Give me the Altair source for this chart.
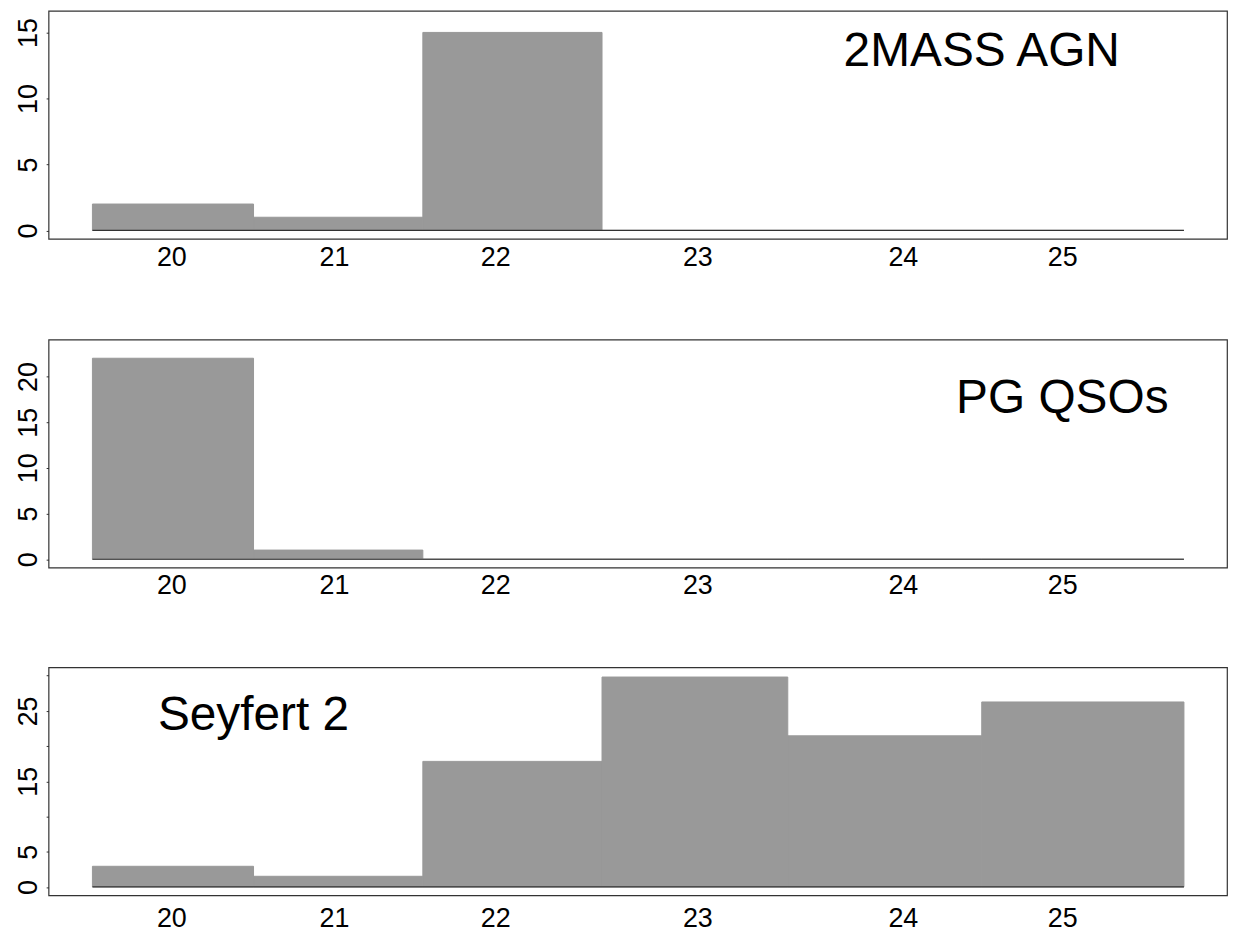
import altair as alt
import pandas as pd

# ---- data ----
bin_lo = [19.52, 20.50, 21.53, 22.62, 23.75, 24.93]
bin_hi = [20.50, 21.53, 22.62, 23.75, 24.93, 26.16]
tick_pos = [20.0, 20.99, 21.97, 23.2, 24.45, 25.42]
tick_labels = ["20", "21", "22", "23", "24", "25"]

agn_2mass = [2, 1, 15, 0, 0, 0]
pg_qso = [22, 1, 0, 0, 0, 0]
seyfert2 = [2.93, 1.51, 17.83, 29.81, 21.46, 26.27]

panel_names = ["2MASS AGN", "PG QSOs", "Seyfert 2"]
panel_values = [agn_2mass, pg_qso, seyfert2]
y_domains = [[-0.64, 16.64], [-0.92, 24.05], [-1.2, 31.2]]
y_ticks = [[0, 5, 10, 15], [0, 5, 10, 15, 20], [0, 5, 10, 15, 20, 25, 30]]
y_shown = [[0, 5, 10, 15], [0, 5, 10, 15, 20], [0, 5, 15, 25]]
label_x = [24.93, 25.42, 20.50]
label_y = [12.47, 15.98, 22.35]
x_label_pad = [26.7, 25.7, 31.6]

X_DOMAIN = [19.253, 26.422]
FONT = "Liberation Sans"
BAR = "#999999"
DARK = "#333333"

x_label_expr = "{labs}[indexof({pos}, datum.value)]".format(
    labs="[" + ",".join("'%s'" % t for t in tick_labels) + "]",
    pos="[" + ",".join(repr(p) for p in tick_pos) + "]",
)


def panel(i):
    df = pd.DataFrame({"lo": bin_lo, "hi": bin_hi, "n": panel_values[i], "base": [0] * len(bin_lo)})
    xs = alt.Scale(domain=X_DOMAIN, nice=False, zero=False)
    ys = alt.Scale(domain=y_domains[i], nice=False, zero=False)
    shown = "[" + ",".join(str(v) for v in y_shown[i]) + "]"
    xaxis = alt.Axis(
        values=tick_pos, tickCount=50, labelExpr=x_label_expr, ticks=False, domain=False, grid=False,
        labelFont=FONT, labelFontSize=27, labelColor="black", labelAlign="center",
        labelBaseline="alphabetic", labelPadding=x_label_pad[i], labelFlush=False,
        labelOverlap=False, title=None, tickSize=0,
    )
    yaxis = alt.Axis(
        values=y_ticks[i], tickCount=50, format="d",
        labelExpr="indexof(%s, datum.value) >= 0 ? datum.label : ''" % shown,
        ticks=True, tickSize=2.4, tickColor=DARK, tickWidth=1, domain=False, grid=False,
        labelFont=FONT, labelFontSize=27, labelColor="black", labelAngle=270,
        labelAlign="center", labelBaseline="alphabetic", labelPadding=9.4,
        labelOverlap=False, labelFlush=False, title=None,
    )
    bars = alt.Chart(df).mark_rect(color=BAR, stroke=BAR, strokeWidth=1).encode(
        x=alt.X("lo:Q", scale=xs, axis=xaxis),
        x2="hi:Q",
        y=alt.Y("n:Q", scale=ys, axis=yaxis),
        y2="base:Q",
    )
    base_df = pd.DataFrame({"x0": [bin_lo[0]], "x1": [bin_hi[-1]], "y0": [0]})
    baseline = alt.Chart(base_df).mark_rule(color=DARK, strokeWidth=1.2).encode(
        x="x0:Q", x2="x1:Q", y="y0:Q"
    )
    txt_df = pd.DataFrame({"x": [label_x[i]], "y": [label_y[i]], "t": [panel_names[i]]})
    txt = alt.Chart(txt_df).mark_text(
        font=FONT, fontSize=48, color="black", align="center", baseline="alphabetic"
    ).encode(x="x:Q", y="y:Q", text="t:N")
    return alt.layer(bars, baseline, txt).properties(
        width=1183, height=229,
        view=alt.ViewBackground(stroke=DARK, strokeWidth=1.2, fill="white"),
    )


chart = alt.vconcat(panel(0), panel(1), panel(2), spacing=67).configure_view(
    stroke=DARK, strokeWidth=1.2, fill="white"
).configure(background="white", padding={"left": 5.7, "top": 0, "right": 0, "bottom": 0})

chart.save("out.html", embed_options={"renderer": "svg", "actions": False})
